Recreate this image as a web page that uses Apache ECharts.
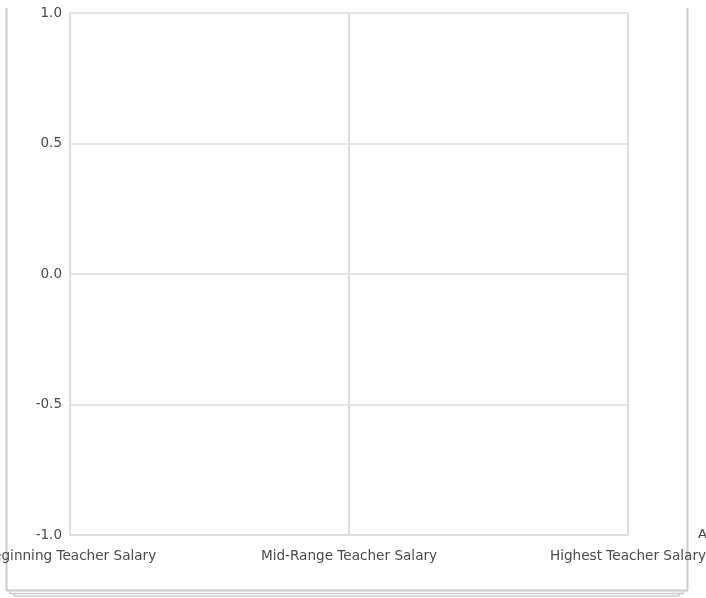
<!DOCTYPE html>
<html>
<head>
<meta charset="utf-8">
<script src="https://cdn.jsdelivr.net/npm/echarts@6/dist/echarts.min.js"></script>
<style>
html,body{margin:0;padding:0;background:#fff;}
#chart{width:706px;height:598px;}
</style>
</head>
<body>
<div id="chart"></div>
<script>
const categories = ["Beginning Teacher Salary", "Mid-Range Teacher Salary", "Highest Teacher Salary"];
const seriesValues = [null, null, null];
const yTicks = [-1.0, -0.5, 0.0, 0.5, 1.0];
const xAxisName = "Average";

const chart = echarts.init(document.getElementById('chart'));
const grey = '#cccccc';
chart.setOption({
  animation: false,
  textStyle: { fontFamily: 'DejaVu Sans' },
  grid: { left: 70, right: 78, top: 13, bottom: 63, containLabel: false, outerBoundsMode: 'none' },
  xAxis: {
    type: 'category',
    data: categories,
    boundaryGap: false,
    name: xAxisName,
    nameLocation: 'end',
    nameGap: 70,
    nameMoveOverlap: false,
    nameTextStyle: { color: '#444', fontSize: 13, fontFamily: 'DejaVu Sans', align: 'left', verticalAlign: 'middle', padding: [0, 0, 14, 0] },
    axisLine: { show: true, onZero: false, lineStyle: { color: '#dddddd', width: 2 } },
    axisTick: { show: false },
    axisLabel: { color: '#4a4a4a', fontSize: 13.6, fontFamily: 'DejaVu Sans', margin: 14, interval: 0, hideOverlap: false },
    splitLine: { show: true, lineStyle: { color: '#dddddd', width: 2 } }
  },
  yAxis: {
    type: 'value',
    min: -1, max: 1, interval: 0.5,
    axisLine: { show: true, lineStyle: { color: '#dddddd', width: 2 } },
    axisTick: { show: false },
    axisLabel: { color: '#4a4a4a', fontSize: 13.5, fontFamily: 'DejaVu Sans', margin: 8, formatter: v => v.toFixed(1) },
    splitLine: { show: true, lineStyle: { color: '#dddddd', width: 1.5 } }
  },
  series: [{ type: 'line', data: seriesValues, symbol: 'none' }],
  graphic: [
    { type: 'line', shape: { x1: 6.5, y1: 8, x2: 6.5, y2: 590.5 }, style: { stroke: grey, lineWidth: 2 } },
    { type: 'line', shape: { x1: 687.5, y1: 8, x2: 687.5, y2: 590.5 }, style: { stroke: grey, lineWidth: 2 } },
    { type: 'line', shape: { x1: 6, y1: 590.5, x2: 688, y2: 590.5 }, style: { stroke: grey, lineWidth: 2 } },
    { type: 'line', shape: { x1: 10, y1: 593.5, x2: 684, y2: 593.5 }, style: { stroke: grey, lineWidth: 1.5 } },
    { type: 'line', shape: { x1: 14, y1: 596, x2: 679, y2: 596 }, style: { stroke: grey, lineWidth: 1.5 } },
    { type: 'line', shape: { x1: 683.5, y1: 590, x2: 683.5, y2: 594 }, style: { stroke: grey, lineWidth: 1.5 } },
    { type: 'line', shape: { x1: 679, y1: 593, x2: 679, y2: 596 }, style: { stroke: grey, lineWidth: 1.5 } },
    { type: 'line', shape: { x1: 10, y1: 590, x2: 10, y2: 594 }, style: { stroke: grey, lineWidth: 1.5 } },
    { type: 'line', shape: { x1: 14, y1: 593, x2: 14, y2: 596 }, style: { stroke: grey, lineWidth: 1.5 } }
  ]
});
</script>
</body>
</html>
